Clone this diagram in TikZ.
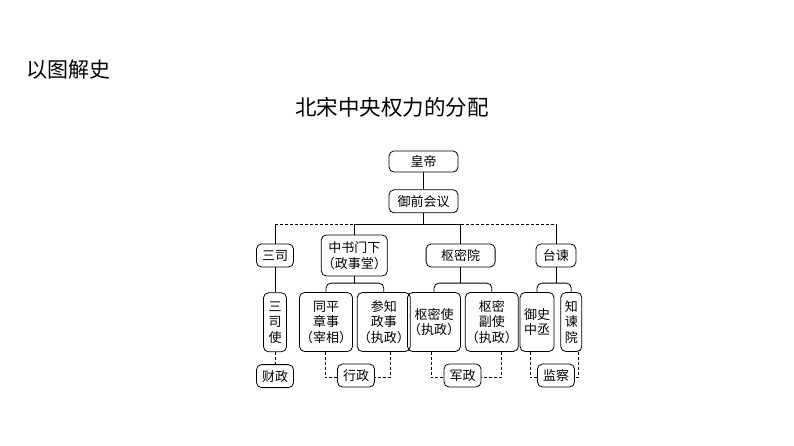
\documentclass[tikz,border=0pt]{standalone}
\usepackage{fontspec}
\newfontfamily\cjk{Noto Sans CJK SC}
\usetikzlibrary{positioning}
\tikzstyle{gbox}=[rectangle, rounded corners=5pt, draw=black, line width=0.8pt,
                  inner xsep=0.5pt, inner ysep=1pt, align=center,
                  font=\cjk\fontsize{13}{15.5}\selectfont]
\tikzstyle{lbox}=[gbox, minimum width=37pt, minimum height=23pt]
\tikzstyle{pline}=[-, line width=0.8pt]
\tikzstyle{dline}=[pline, dash pattern=on 3pt off 2pt]

\begin{document}
\begin{tikzpicture}[node distance=0mm]
\useasboundingbox (0,0) rectangle (794pt,-446pt);

\node (TITLE) [anchor=west, inner sep=0pt, font=\cjk\fontsize{21}{21}\selectfont] at (26pt,-70pt) {以图解史};
\node (HEAD) [inner sep=0pt, font=\cjk\fontsize{21.5}{21.5}\selectfont] at (392pt,-107pt) {北宋中央权力的分配};

% top
\node (HD) [gbox, minimum width=69pt, minimum height=21pt] at (423.5pt,-161.5pt) {皇帝};
\node (YQ) [gbox, minimum width=69pt, minimum height=23pt, below=17pt of HD] {御前会议};
\coordinate [below=11pt of YQ] (bus);
 \draw[pline] (HD) -- (YQ);
 \draw[pline] (YQ) -- (bus);

% offices
\node (SS) [gbox, minimum width=37pt, minimum height=23pt] at (275pt,-255.5pt) {三司};
\node (ZS) [gbox, minimum width=65pt, minimum height=41pt, right=27pt of SS] {中书门下\\（政事堂）};
\node (SM) [gbox, minimum width=69pt, minimum height=23pt, right=38pt of ZS] {枢密院};
\node (TJ) [gbox, minimum width=40pt, minimum height=23pt, right=40pt of SM] {台谏};

 \draw[pline] (ZS.north) |- (SM.north |- bus) -- (SM.north);
 \draw[pline] (SS.north) -- (SS.north |- bus);
 \draw[pline] (TJ.north) -- (TJ.north |- bus);
 \draw[dline] (SS.north |- bus) -- (ZS.north |- bus);
 \draw[dline] (SM.north |- bus) -- (TJ.north |- bus);

% posts
\node (SSS) [gbox, minimum width=23pt, minimum height=59pt, below=25pt of SS] {三\\司\\使};
\node (TP) [gbox, minimum width=48pt, minimum height=59pt] at (326pt,-322pt) {同平\\章事\\（宰相）};
\node (CZ) [gbox, minimum width=47pt, minimum height=59pt, right=4pt of TP] {参知\\政事\\（执政）};
\node (SMS) [gbox, minimum width=48pt, minimum height=59pt] at (434pt,-322pt) {枢密使\\（执政）};
\node (SMF) [gbox, minimum width=49pt, minimum height=59pt, right=4pt of SMS] {枢密\\副使\\（执政）};
\node (YS) [gbox, minimum width=34pt, minimum height=59pt] at (537pt,-322pt) {御史\\中丞};
\node (ZJ) [gbox, minimum width=21pt, minimum height=59pt, right=6pt of YS] {知\\谏\\院};

 \draw[pline] (SS) -- (SSS);
 \draw[pline] (ZS.south) -- ([yshift=9pt]ZS.south |- TP.north);
 \draw[pline, rounded corners=5pt] (TP.north) |- ([yshift=9pt]ZS.south |- TP.north) -| (CZ.north);
 \draw[pline] (SM.south) -- ([yshift=9pt]SM.south |- SMS.north);
 \draw[pline, rounded corners=5pt] (SMS.north) |- ([yshift=9pt]SM.south |- SMS.north) -| (SMF.north);
 \draw[pline] (TJ.south) -- ([yshift=9pt]TJ.south |- YS.north);
 \draw[pline, rounded corners=5pt] (YS.north) |- ([yshift=9pt]TJ.south |- YS.north) -| (ZJ.north);

% functions
\node (CAI) [lbox, below=12pt of SSS] {财政};
\node (XZ) [lbox] at (356pt,-375.5pt) {行政};
\node (JZ) [lbox] at (462.5pt,-375.5pt) {军政};
\node (JC) [lbox] at (556pt,-375.5pt) {监察};

 \draw[dline] (SSS.south) -- (SSS.south |- CAI.north);
 \draw[dline] ([xshift=-1pt]TP.south) |- ([yshift=-2pt]XZ.west);
 \draw[dline] ([xshift=7pt]CZ.south) |- ([yshift=-2pt]XZ.east);
 \draw[dline] ([xshift=-3pt]SMS.south) |- ([yshift=-2pt]JZ.west);
 \draw[dline] ([xshift=10pt]SMF.south) |- ([yshift=-2pt]JZ.east);
 \draw[dline] ([xshift=-7pt]YS.south) |- ([yshift=-2pt]JC.west);
 \draw[dline] ([xshift=7pt]ZJ.south) |- ([yshift=-2pt]JC.east);

\end{tikzpicture}
\end{document}
